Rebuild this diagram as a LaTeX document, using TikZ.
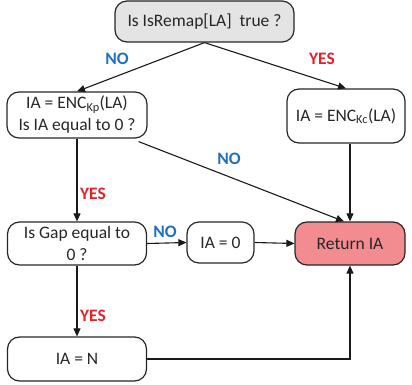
\documentclass[tikz,border=0pt]{standalone}
\usepackage{fontspec}
\setmainfont{Carlito}
\usetikzlibrary{arrows.meta}
\definecolor{nocol}{RGB}{31,112,192}
\definecolor{yescol}{RGB}{232,32,42}
\definecolor{retfill}{RGB}{242,140,145}
\definecolor{askfill}{RGB}{228,228,228}
\begin{document}
\begin{tikzpicture}[x=1pt, y=-1pt,
    box/.style = {draw=black!85, line width=1.2pt, rounded corners=12pt, align=center,
                  inner sep=0pt, text=black!85, font=\fontsize{17.5}{22}\selectfont},
    arr/.style = {line width=1.1pt, draw=black!90, -{Triangle[length=8pt,width=7pt]}},
    nolbl/.style = {text=nocol, font=\fontsize{17.5}{21}\selectfont\bfseries},
    yeslbl/.style = {text=yescol, font=\fontsize{17.5}{21}\selectfont\bfseries}]
    \useasboundingbox (0,0) rectangle (412,385);
    % boxes
    \node[box, fill=askfill, minimum width=179pt, minimum height=41pt] (ask) at (204.5,21.5) {Is IsRemap[LA]\ \ true ?};
    \node[box, minimum width=140pt, minimum height=46pt] (enckp) at (77,115) {IA = ENC\textsubscript{Kp}(LA)\\Is IA equal to 0 ?};
    \node[box, minimum width=118pt, minimum height=54pt] (enckc) at (346,116) {IA = ENC\textsubscript{Kc}(LA)};
    \node[box, minimum width=139pt, minimum height=43pt] (gap) at (77,243.5) {Is Gap equal to\\0 ?};
    \node[box, minimum width=67pt, minimum height=41pt] (zero) at (220.5,242.5) {IA = 0};
    \node[box, fill=retfill, minimum width=110pt, minimum height=43pt] (ret) at (350,243.5) {Return IA};
    \node[box, minimum width=139pt, minimum height=44pt] (setn) at (77,359) {IA = N};
    % connectors
    \draw[arr] (ask.south) -- (enckp.north);
    \draw[arr] (ask.south) -- (enckc.north);
    \draw[arr] ([xshift=-9pt,yshift=-3pt]enckp.south east) -- ([xshift=-6pt]ret.north);
    \draw[arr] (enckc.south -| ret.north) -- (ret.north);
    \draw[arr] (enckp.south) -- (gap.north);
    \draw[arr] (gap.east) -- (zero.west);
    \draw[arr] (zero.east) -- (ret.west);
    \draw[arr] (gap.south) -- (setn.north);
    \draw[arr] (setn.east) -| (ret.south);
    % labels
    \node[nolbl] (no1) at (117,59) {NO};
    \node[yeslbl] (yes1) at (322,59) {YES};
    \node[nolbl] (no2) at (229,159) {NO};
    \node[yeslbl] (yes2) at (93,194) {YES};
    \node[nolbl] (no3) at (165,232) {NO};
    \node[yeslbl] (yes3) at (93,316) {YES};
\end{tikzpicture}
\end{document}
